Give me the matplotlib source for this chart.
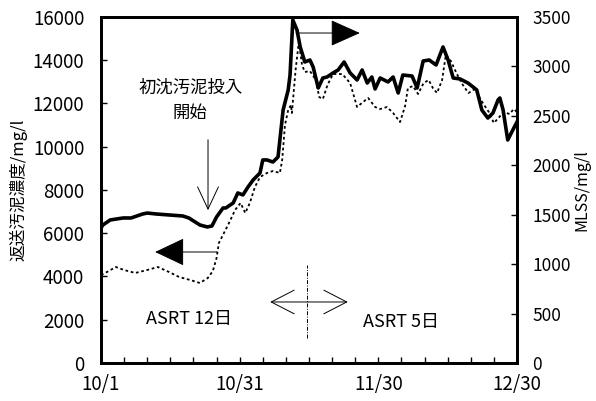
import matplotlib
matplotlib.use('Agg')
import matplotlib.pyplot as plt
from matplotlib.ticker import MultipleLocator, FixedLocator, FixedFormatter

# ---- data (day offset from 10/1) ----
mlss_days = [0, 0.4, 2, 4.8, 6.5, 9, 10, 12, 17.7, 19, 21.4, 23, 24, 25, 26.4, 27,
             28.6, 29.6, 30.7, 31.8, 32.9, 34.4, 35, 35.9, 37.2, 38.3, 39.4, 40.5,
             40.9, 41.5, 42.4, 43.1, 44.1, 45.2, 45.9, 47, 48, 48.9, 50.2, 51.3,
             52.6, 53.9, 55.4, 56.5, 57.6, 58.6, 59.3, 60.4, 62.1, 63.2, 64.3, 65.3,
             67.3, 68.4, 69.7, 71, 72.5, 74, 75.1, 76.2, 77.7, 79.4, 80.5, 81.3,
             82.4, 83.7, 84.8, 85.9, 86.3, 87, 88, 89.1, 90]
mlss = [1366, 1396, 1447, 1467, 1467, 1507, 1517, 1507, 1487, 1467, 1396, 1376, 1386,
        1477, 1568, 1568, 1619, 1720, 1700, 1780, 1851, 1922, 2054, 2054, 2033, 2084,
        2559, 2762, 2913, 3470, 3369, 3197, 3045, 3065, 2994, 2782, 2883, 2893, 2934,
        2964, 3045, 2934, 2863, 2964, 2832, 2893, 2772, 2883, 2843, 2893, 2731, 2913,
        2903, 2782, 3055, 3065, 3015, 3197, 3065, 2883, 2873, 2832, 2792, 2762, 2559,
        2478, 2529, 2660, 2681, 2559, 2256, 2357, 2438]

rs_days = [0, 0.9, 3.2, 5, 7.4, 10, 12.3, 14.7, 16.9, 19.3, 21.4, 23.1, 24.2, 25,
           25.5, 26.6, 27.9, 29, 30.2, 31.2, 32.2, 33.3, 34.4, 35.9, 37.2, 38.7,
           39.2, 39.8, 40.5, 41.1, 41.3, 42.1, 42.8, 43.5, 44.1, 45.2, 46.5, 47.2,
           48, 49, 50.2, 52.2, 53.9, 55.4, 56.7, 57.8, 59.3, 60.4, 61.9, 63.2, 64.7,
           65.8, 66.4, 67.5, 68.6, 69.8, 70.9, 71.8, 72.7, 73.8, 74.6, 75.7, 76.8,
           78, 79.5, 80.9, 82.2, 83.9, 85, 86, 87.1, 88.4, 89.3, 90]
return_sludge = [4069, 4162, 4439, 4300, 4162, 4300, 4439, 4208, 3977, 3838, 3699,
                 3930, 4254, 4855, 5549, 6011, 6566, 7075, 7398, 6936, 7398, 8138,
                 8600, 8786, 8878, 8786, 9387, 11005, 11699, 11930, 11560, 13548,
                 14850, 13779, 13456, 13502, 13086, 12300, 12207, 12855, 13363, 13363,
                 12947, 11838, 12069, 12254, 11838, 11745, 11838, 11560, 11144, 11884,
                 12716, 12808, 12439, 12947, 13086, 12716, 12485, 13086, 14242, 13965,
                 13456, 12947, 12485, 12670, 12161, 11606, 11098, 11329, 11606, 11514,
                 11745, 11606]

x_tick_pos = [0, 30, 60, 90]
x_tick_labels = ['10/1', '10/31', '11/30', '12/30']

CJK = ['Noto Sans CJK JP', 'DejaVu Sans']
plt.rcParams['font.family'] = CJK

fig = plt.figure(figsize=(5.96, 4.01), dpi=100)
ax = fig.add_axes([0.1695, 0.0948, 0.6979, 0.8628])
ax2 = ax.twinx()

ax.plot(rs_days, return_sludge, color='black', lw=1.3, ls=(0, (1.5, 1.5)))
ax2.plot(mlss_days, mlss, color='black', lw=2.6, solid_joinstyle='round')

ax.set_xlim(0, 90)
ax.set_ylim(0, 16000)
ax2.set_ylim(0, 3500)

ax.xaxis.set_major_locator(FixedLocator(x_tick_pos))
ax.xaxis.set_major_formatter(FixedFormatter(x_tick_labels))
ax.xaxis.set_minor_locator(MultipleLocator(5))
ax.yaxis.set_major_locator(MultipleLocator(2000))
ax2.yaxis.set_major_locator(MultipleLocator(500))

for a in (ax, ax2):
    for s in a.spines.values():
        s.set_linewidth(2.0)
ax.tick_params(axis='x', which='both', direction='in', length=4, width=1, labelsize=13.5, pad=8)
ax.tick_params(axis='y', direction='in', length=4, width=1, labelsize=13.5, pad=12)
ax2.tick_params(axis='y', direction='in', length=4, width=1, labelsize=12.5, pad=11)

ax.set_ylabel('返送汚泥濃度/mg/l', fontsize=12, labelpad=4)
ax2.set_ylabel('MLSS/mg/l', fontsize=11.5, rotation=90)
ax2.yaxis.set_label_coords(1.135, 0.5)

# annotations
ax.text(19.3, 12716, '初沈汚泥投入', fontsize=12.5, ha='center', va='center')
ax.text(19.3, 11560, '開始', fontsize=12.5, ha='center', va='center')
ax.annotate('', xy=(23.15, 6936), xytext=(23.15, 10450),
            arrowprops=dict(arrowstyle='->,head_length=1.6,head_width=0.75', lw=0.7, color='black'))

ax.annotate('', xy=(11.7, 5133), xytext=(25.1, 5133),
            arrowprops=dict(arrowstyle='-|>,head_length=1.9,head_width=0.9', lw=0.7,
                            color='black', fc='black', shrinkA=0, shrinkB=0))
ax.annotate('', xy=(56.0, 15259), xytext=(42.2, 15259),
            arrowprops=dict(arrowstyle='-|>,head_length=1.9,head_width=0.85', lw=0.7,
                            color='black', fc='black', shrinkA=0, shrinkB=0))

ax.annotate('', xy=(36.6, 2821), xytext=(53.4, 2821),
            arrowprops=dict(arrowstyle='<->,head_length=1.65,head_width=0.85', lw=0.7,
                            color='black', shrinkA=0, shrinkB=0))
ax.plot([44.6, 44.6], [1156, 4531], color='black', lw=0.7, ls=(0, (4, 1.5, 1, 1.5)))

ax.text(19.0, 2035, 'ASRT 12日', fontsize=13, ha='center', va='center')
ax.text(64.9, 1896, 'ASRT 5日', fontsize=13, ha='center', va='center')

fig.savefig('out.png', dpi=100)
